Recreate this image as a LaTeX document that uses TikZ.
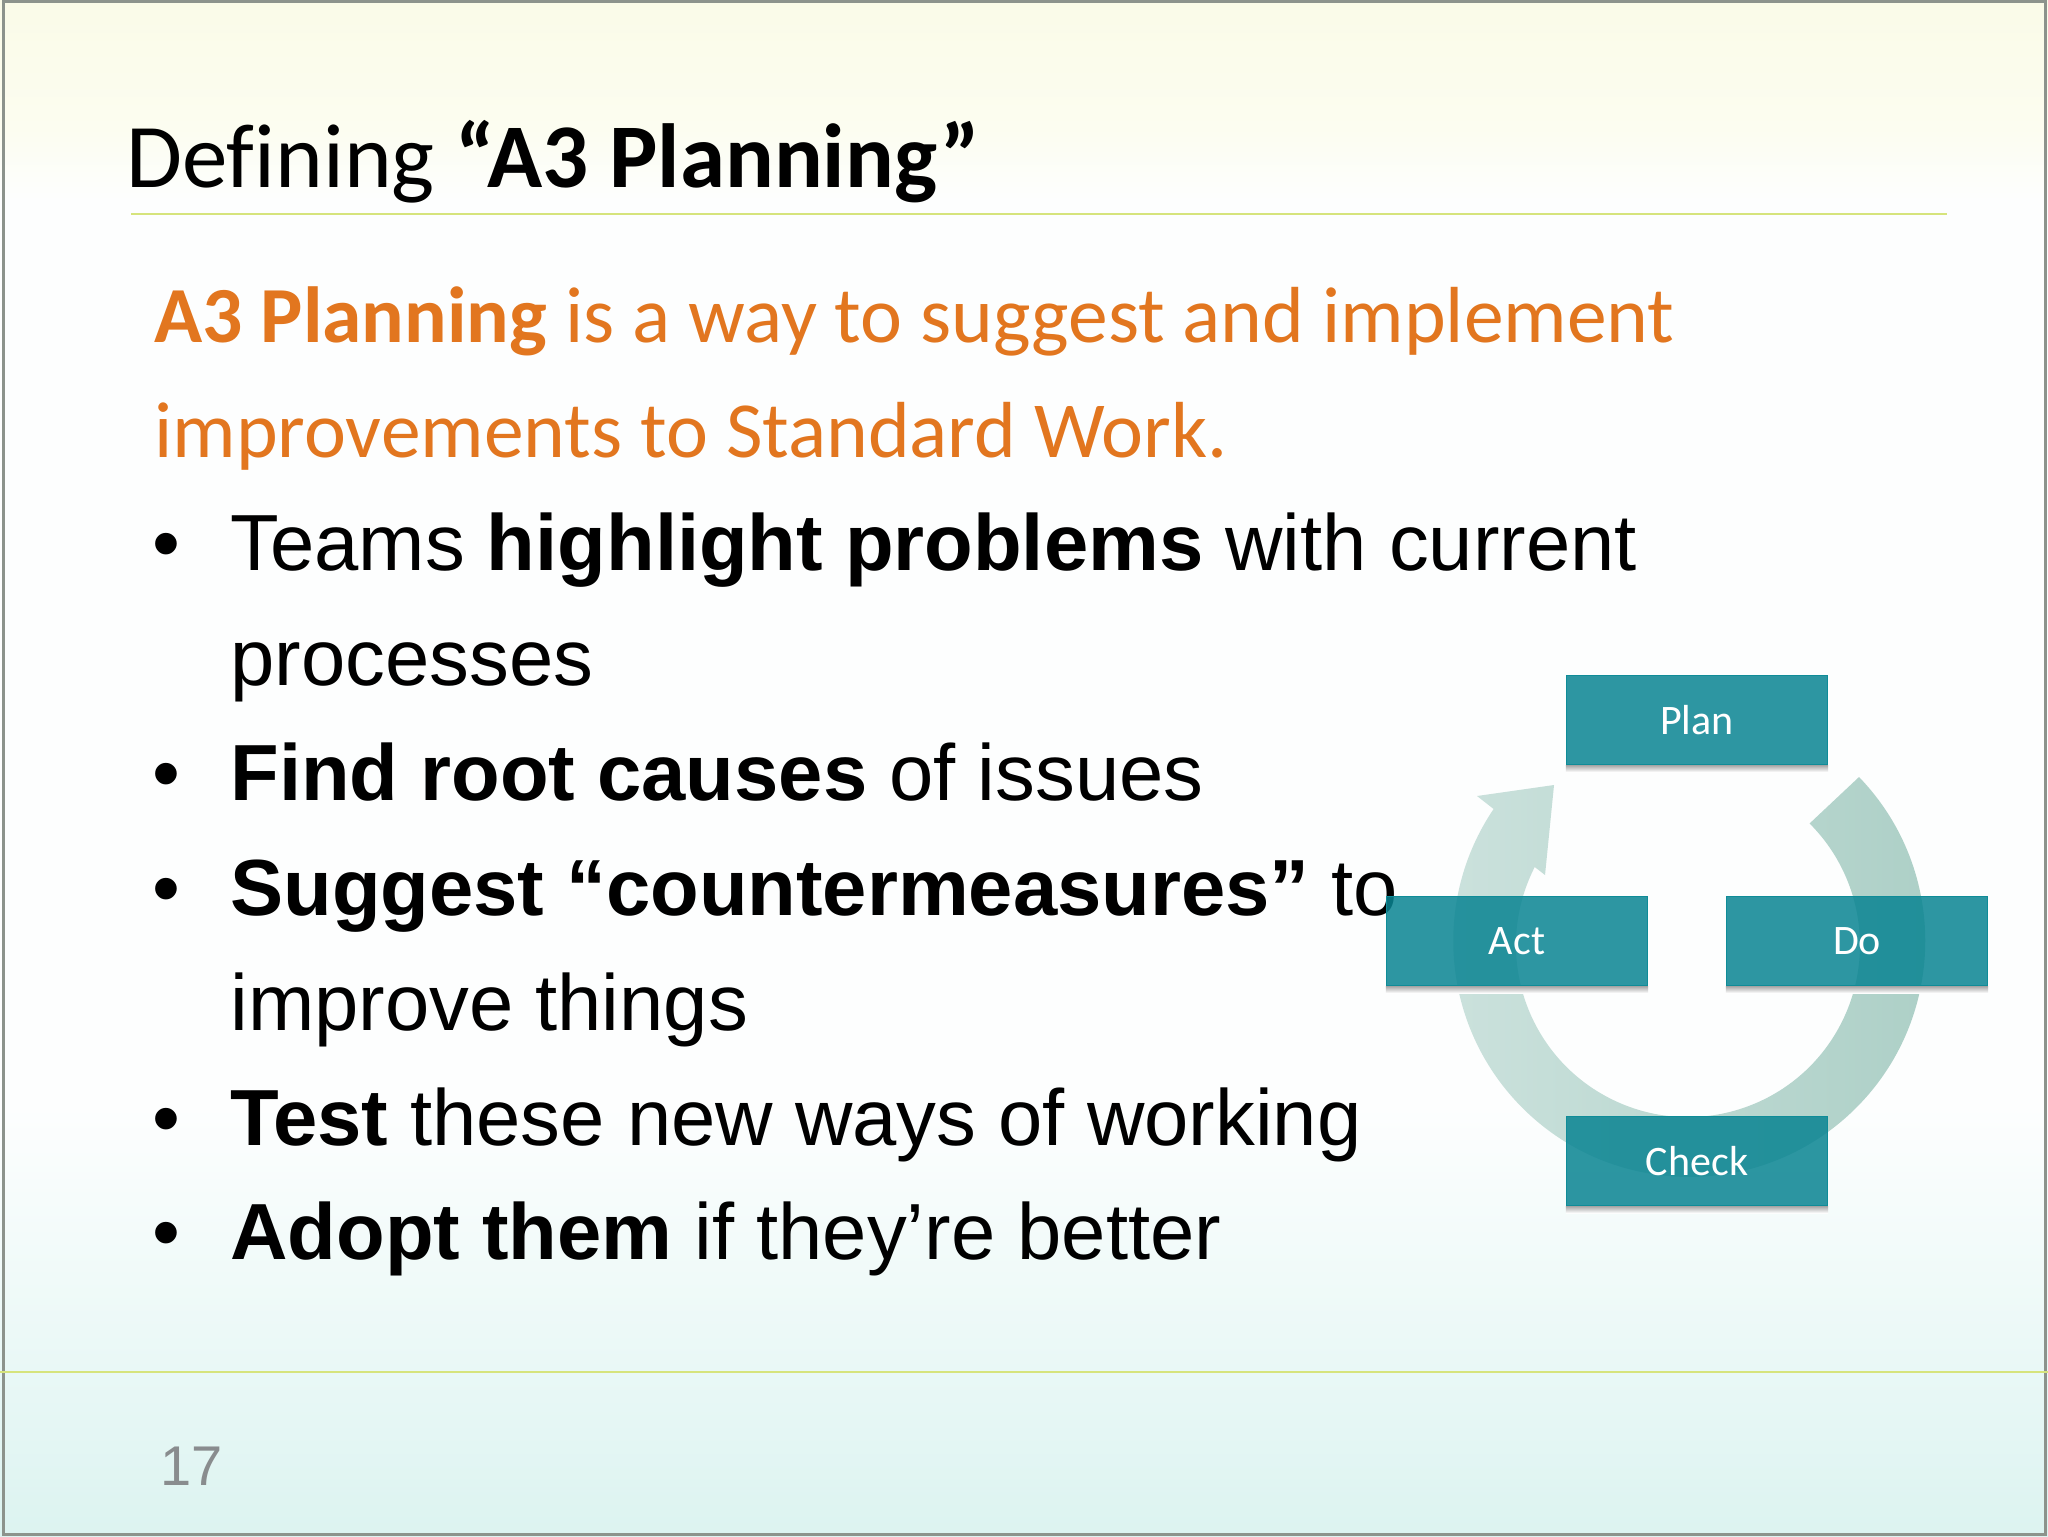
\documentclass[tikz,border=0pt]{standalone}
\usepackage{fontspec}
\setmainfont[Ligatures=NoCommon]{Carlito}
\newfontfamily\arialfont{Liberation Sans}
\definecolor{bgtop}{HTML}{FAFBE8}
\definecolor{bgpale}{HTML}{FCFDF0}
\definecolor{bgmid}{HTML}{FDFEFE}
\definecolor{bgfoot}{HTML}{E9F8F6}
\definecolor{bgbot}{HTML}{DCF3F0}
\definecolor{rulegreen}{HTML}{D6E47C}
\definecolor{framegray}{HTML}{8C938C}
\definecolor{headorange}{HTML}{E2761F}
\definecolor{pagegray}{HTML}{898C8E}
\definecolor{boxteal}{HTML}{098492}
\definecolor{boxedge}{HTML}{0F8C98}
\definecolor{ringleft}{HTML}{CCE2DD}
\definecolor{ringright}{HTML}{ACCFC6}
\pgfdeclareverticalshading{slidebg}{100bp}{
  color(0bp)=(bgbot); color(25bp)=(bgbot); color(30.4bp)=(bgfoot); color(39bp)=(bgmid);
  color(68.5bp)=(bgmid); color(70.8bp)=(bgpale); color(75bp)=(bgtop); color(100bp)=(bgtop)}
\tikzset{
  titletext/.style={anchor=base west,inner sep=0pt,font=\fontsize{45.5}{46}\selectfont},
  headtext/.style={anchor=base west,inner sep=0pt,text=headorange,font=\fontsize{39.75}{40}\selectfont},
  bodytext/.style={anchor=base west,inner sep=0pt,font=\arialfont\fontsize{39.8}{40}\selectfont},
  pagetext/.style={anchor=base west,inner sep=0pt,text=pagegray,font=\arialfont\fontsize{28}{28}\selectfont},
  pdcabox/.style={draw=boxedge,line width=.6pt,fill=boxteal,fill opacity=.85,text opacity=1,
    text=white,inner sep=0pt,minimum width=130.5pt,minimum height=44.5pt,
    font=\fontsize{21}{21}\selectfont},
  boxshade/.style={top color=gray!70,bottom color=white}
}
\begin{document}
\begin{tikzpicture}[x=.5pt,y=-.5pt]
  \useasboundingbox (0,0) rectangle (2048,1536);
  \shade[shading=slidebg] (0,0) rectangle (2048,1536);
  \draw[framegray,line width=1.5pt] (3,2) rectangle (2045,1534);
  \draw[rulegreen,line width=1pt] (131,214) -- (1947,214);
  \draw[rulegreen,line width=1.2pt] (0,1372) -- (2048,1372);

  \node[titletext] (title) at (126,187) {Defining \textbf{“A3 Planning”}};
  \node[headtext] (head1) at (154,342) {\textbf{A3 Planning} is a way to suggest and implement};
  \node[headtext] (head2) at (154,457) {improvements to Standard Work.};

  \node[bodytext] (dot1) at (152,570) {•};
  \node[bodytext] (dot2) at (152,800) {•};
  \node[bodytext] (dot3) at (152,915) {•};
  \node[bodytext] (dot4) at (152,1145) {•};
  \node[bodytext] (dot5) at (152,1259) {•};
  \node[bodytext] (line1) at (230,570) {Teams \textbf{highlight problems} with current};
  \node[bodytext] (line2) at (230,685) {processes};
  \node[bodytext] (line3) at (230,800) {\textbf{Find root causes} of issues};
  \node[bodytext] (line4) at (230,915) {\textbf{Suggest “countermeasures”} to};
  \node[bodytext] (line5) at (230,1030) {improve things};
  \node[bodytext] (line6) at (230,1145) {\textbf{Test} these new ways of working};
  \node[bodytext] (line7) at (230,1259) {\textbf{Adopt them} if they’re better};
  \node[pagetext] (page) at (160,1485) {17};

  \shade[left color=ringleft,right color=ringright]
    (1859,777) arc[start angle=44,end angle=-214,radius=118pt]
    -- (1477,796) -- (1554,785) -- (1545,875)
    -- (1534.7,867) arc[start angle=-207,end angle=45,radius=86pt] -- cycle;

  \node[pdcabox] (plan) at (1697,720) {Plan};
  \node[pdcabox] (act) at (1517,941) {Act};
  \node[pdcabox] (do) at (1857,941) {Do};
  \node[pdcabox] (check) at (1697,1161) {Check};
  \foreach \n in {plan,act,do,check}
    \shade[boxshade] (\n.south west) rectangle ([yshift=-3.5pt]\n.south east);
\end{tikzpicture}
\end{document}
